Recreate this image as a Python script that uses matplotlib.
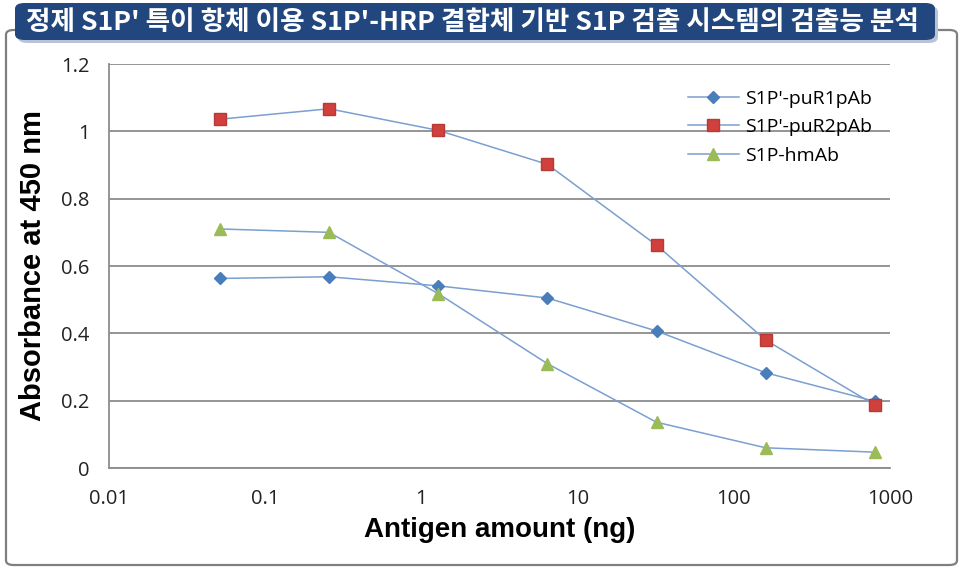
import matplotlib
matplotlib.use("Agg")
import matplotlib.pyplot as plt
from matplotlib.patches import FancyBboxPatch
from matplotlib.ticker import FixedLocator, NullLocator

title = "정제 S1P' 특이 항체 이용 S1P'-HRP 결합체 기반 S1P 검출 시스템의 검출능 분석"
antigen_ng = [0.0512, 0.256, 1.28, 6.4, 32, 160, 800]
s1p_pur1 = [0.563, 0.568, 0.541, 0.505, 0.407, 0.283, 0.198]
s1p_pur2 = [1.036, 1.067, 1.003, 0.902, 0.662, 0.380, 0.187]
s1p_hmab = [0.710, 0.700, 0.518, 0.310, 0.136, 0.060, 0.047]
series_names = ["S1P'-puR1pAb", "S1P'-puR2pAb", "S1P-hmAb"]
x_ticks = [0.01, 0.1, 1, 10, 100, 1000]
x_tick_labels = ["0.01", "0.1", "1", "10", "100", "1000"]
y_ticks = [0, 0.2, 0.4, 0.6, 0.8, 1.0, 1.2]
y_tick_labels = ["0", "0.2", "0.4", "0.6", "0.8", "1", "1.2"]

W, H = 963, 572
fig = plt.figure(figsize=(W / 100, H / 100), dpi=100)

# outer border
border = FancyBboxPatch((6 / W, 7 / H), 951 / W, 535 / H,
                        boxstyle="round,pad=0,rounding_size=0.008",
                        transform=fig.transFigure, facecolor="none",
                        edgecolor="#7f7f7f", linewidth=1.6, zorder=0)
fig.patches.append(border)

# title banner
shadow = FancyBboxPatch((18 / W, (H - 43) / H), 920 / W, 37 / H,
                        boxstyle="round,pad=0,rounding_size=0.01",
                        transform=fig.transFigure, facecolor="#b8c4d6",
                        edgecolor="none", zorder=2)
fig.patches.append(shadow)
banner = FancyBboxPatch((15 / W, (H - 40) / H), 920 / W, 37 / H,
                        boxstyle="round,pad=0,rounding_size=0.01",
                        transform=fig.transFigure, facecolor="#22467e",
                        edgecolor="none", zorder=3)
fig.patches.append(banner)
fig.text(472 / W, (H - 22) / H, title, color="white", fontsize=19.2,
         fontweight="bold", family=["Noto Sans CJK KR", "DejaVu Sans"],
         ha="center", va="center", zorder=4)

ax = fig.add_axes([109 / W, (H - 468) / H, 781 / W, 404 / H])
ax.set_xscale("log")
ax.set_xlim(0.01, 1000)
ax.set_ylim(0, 1.2)
ax.patch.set_alpha(0)

line_color = "#7b9fd0"
ax.plot(antigen_ng, s1p_pur1, color=line_color, lw=1.1, marker="D", ms=6,
        mfc="#4a7ebb", mec="#4a7ebb", label=series_names[0], zorder=3)
ax.plot(antigen_ng, s1p_pur2, color=line_color, lw=1.1, marker="s", ms=8,
        mfc="#d0403c", mec="#b83a36", label=series_names[1], zorder=3)
ax.plot(antigen_ng, s1p_hmab, color=line_color, lw=1.1, marker="^", ms=8,
        mfc="#9bbb59", mec="#9bbb59", label=series_names[2], zorder=3)

ax.xaxis.set_major_locator(FixedLocator(x_ticks))
ax.xaxis.set_minor_locator(NullLocator())
ax.set_xticklabels(x_tick_labels)
ax.set_yticks(y_ticks)
ax.set_yticklabels(y_tick_labels)
ax.tick_params(length=0, labelsize=14.5, colors="#222222")
ax.tick_params(axis="x", pad=15)
ax.tick_params(axis="y", pad=14)
for lab in ax.get_xticklabels() + ax.get_yticklabels():
    lab.set_family("Open Sans")

ax.grid(axis="y", color="#8c8c8c", lw=1.3)
ax.set_axisbelow(True)
for s in ["top", "right"]:
    ax.spines[s].set_visible(False)
for s in ["left", "bottom"]:
    ax.spines[s].set_color("#8c8c8c")
    ax.spines[s].set_linewidth(1.3)

ax.set_xlabel("Antigen amount (ng)", fontsize=20, fontweight="bold",
              family="Liberation Sans", labelpad=6)
ax.set_ylabel("Absorbance at 450 nm", fontsize=21, fontweight="bold",
              family="Liberation Sans", labelpad=10)

leg = ax.legend(loc="upper right", bbox_to_anchor=(1.0, 0.98), frameon=False,
                prop={"family": "Open Sans", "size": 14}, handlelength=2.6,
                labelspacing=0.55, handletextpad=0.35)

fig.savefig("out.png", dpi=100)
